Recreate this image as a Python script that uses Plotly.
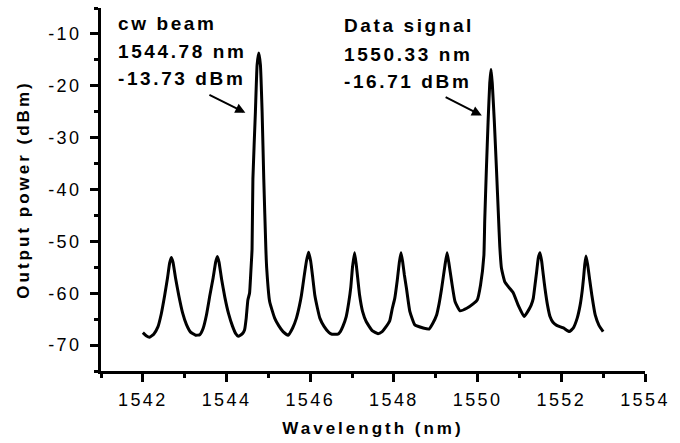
import plotly.graph_objects as go

# Wavelength (nm) and output power (dBm)
wavelength = [
    1542.00, 1542.08, 1542.16, 1542.26, 1542.36, 1542.44, 1542.52, 1542.59, 1542.64, 1542.68,
    1542.72, 1542.78, 1542.86, 1542.95, 1543.04, 1543.14, 1543.26, 1543.36, 1543.44, 1543.52,
    1543.60, 1543.68, 1543.74, 1543.78, 1543.82, 1543.88, 1543.96, 1544.05, 1544.14, 1544.22,
    1544.28, 1544.38, 1544.43, 1544.47, 1544.51, 1544.55, 1544.58, 1544.61, 1544.63, 1544.69,
    1544.73, 1544.77, 1544.81, 1544.85, 1544.89, 1544.94, 1544.96, 1545.03, 1545.15, 1545.25,
    1545.35, 1545.47, 1545.58, 1545.67, 1545.74, 1545.79, 1545.85, 1545.91, 1545.96, 1546.01,
    1546.06, 1546.11, 1546.17, 1546.23, 1546.33, 1546.45, 1546.52, 1546.66, 1546.72, 1546.78,
    1546.86, 1546.92, 1546.97, 1547.01, 1547.06, 1547.10, 1547.14, 1547.18, 1547.25, 1547.34,
    1547.48, 1547.62, 1547.72, 1547.80, 1547.90, 1547.96, 1548.02, 1548.08, 1548.13, 1548.17,
    1548.21, 1548.25, 1548.30, 1548.38, 1548.50, 1548.70, 1548.84, 1548.93, 1549.02, 1549.08,
    1549.14, 1549.22, 1549.27, 1549.31, 1549.38, 1549.46, 1549.58, 1549.74, 1549.90, 1549.99,
    1550.07, 1550.15, 1550.17, 1550.21, 1550.25, 1550.29, 1550.32, 1550.35, 1550.40, 1550.45,
    1550.50, 1550.53, 1550.57, 1550.65, 1550.75, 1550.85, 1550.98, 1551.11, 1551.20, 1551.28,
    1551.33, 1551.37, 1551.41, 1551.45, 1551.49, 1551.53, 1551.57, 1551.61, 1551.67, 1551.73,
    1551.80, 1551.89, 1552.05, 1552.19, 1552.28, 1552.38, 1552.45, 1552.50, 1552.53, 1552.56,
    1552.59, 1552.63, 1552.68, 1552.73, 1552.81, 1552.90, 1553.00,
]
power_dbm = [
    -67.6, -68.2, -68.5, -67.9, -66.5, -64.0, -60.5, -57.0, -54.2, -53.1,
    -54.0, -57.0, -60.5, -63.8, -66.0, -67.5, -68.1, -68.0, -66.8, -64.2,
    -60.5, -57.0, -54.0, -52.9, -54.0, -57.2, -60.8, -64.0, -66.3, -67.8,
    -68.3, -67.8, -67.1, -64.8, -61.3, -60.0, -56.0, -51.5, -38.0, -25.0,
    -16.0, -13.7, -16.0, -25.0, -38.0, -51.5, -55.2, -61.6, -64.8, -66.3,
    -67.4, -68.1, -66.7, -64.8, -62.5, -60.4, -57.0, -53.8, -52.1, -53.8,
    -57.0, -60.4, -62.8, -64.8, -66.4, -67.6, -67.9, -67.9, -67.4, -66.4,
    -64.5, -61.8, -58.8, -55.0, -52.2, -54.5, -57.5, -60.4, -63.5, -65.5,
    -67.2, -67.8, -67.4, -66.6, -65.3, -63.0, -61.0, -57.5, -54.0, -52.2,
    -54.0, -56.5, -59.1, -63.5, -66.1, -66.7, -66.9, -65.8, -64.2, -62.0,
    -59.1, -54.6, -52.2, -54.0, -57.8, -61.6, -63.4, -62.9, -62.0, -61.3,
    -58.4, -52.7, -46.0, -36.0, -27.0, -19.5, -16.8, -19.5, -27.0, -36.0,
    -45.5, -51.0, -55.2, -57.8, -58.9, -59.9, -62.5, -64.5, -63.5, -62.3,
    -61.0, -58.5, -55.9, -53.2, -52.2, -53.8, -56.5, -59.1, -62.3, -64.5,
    -65.6, -66.2, -66.7, -67.4, -66.8, -64.8, -62.3, -59.5, -57.2, -54.5,
    -52.8, -54.5, -57.5, -60.4, -64.2, -66.2, -67.4,
]

x_tick_vals = [1542, 1544, 1546, 1548, 1550, 1552, 1554]
y_tick_vals = [-10, -20, -30, -40, -50, -60, -70]

cw_label = ["cw beam", "1544.78 nm", "-13.73 dBm"]
cw_label_y = [-7.9, -13.35, -18.6]
data_label = ["Data signal", "1550.33 nm", "-16.71 dBm"]
data_label_y = [-8.45, -13.9, -19.25]

FONT = "Liberation Sans, Arial, sans-serif"

fig = go.Figure()
fig.add_trace(go.Scatter(
    x=wavelength, y=power_dbm, mode="lines",
    line=dict(color="black", width=3, shape="spline", smoothing=0.4),
    showlegend=False, hoverinfo="skip",
))

annotations = []
for txt, yy in zip(cw_label, cw_label_y):
    annotations.append(dict(x=1541.37, y=yy, xref="x", yref="y", text=txt, showarrow=False,
                            xanchor="left", yanchor="middle", align="left",
                            font=dict(family=FONT, size=19, color="black", weight="bold")))
for txt, yy in zip(data_label, data_label_y):
    annotations.append(dict(x=1546.75, y=yy, xref="x", yref="y", text=txt, showarrow=False,
                            xanchor="left", yanchor="middle", align="left",
                            font=dict(family=FONT, size=19, color="black", weight="bold")))
# arrows
annotations.append(dict(x=1544.45, y=-25.2, ax=1543.555, ay=-21.6, xref="x", yref="y",
                        axref="x", ayref="y", text="", showarrow=True, arrowhead=2,
                        arrowsize=1, arrowwidth=2, arrowcolor="black"))
annotations.append(dict(x=1550.10, y=-25.75, ax=1549.20, ay=-22.05, xref="x", yref="y",
                        axref="x", ayref="y", text="", showarrow=True, arrowhead=2,
                        arrowsize=1, arrowwidth=2, arrowcolor="black"))

fig.update_layout(
    width=680, height=443,
    margin=dict(l=101, r=35, t=8, b=70),
    paper_bgcolor="white", plot_bgcolor="white",
    font=dict(family=FONT, color="black"),
    annotations=annotations,
    showlegend=False,
)
fig.update_xaxes(
    range=[1541, 1554], tickvals=x_tick_vals, ticktext=[str(v) for v in x_tick_vals],
    showline=True, linecolor="black", linewidth=3, mirror=False,
    ticks="outside", ticklen=8, tickwidth=2.5, tickcolor="black",
    minor=dict(dtick=1, tick0=1541, ticks="outside", ticklen=4, tickwidth=2.5, tickcolor="black"),
    showgrid=False, zeroline=False, ticklabelstandoff=2,
    tickfont=dict(family=FONT, size=18, color="black"),
    title=dict(text="Wavelength (nm)", standoff=14,
               font=dict(family=FONT, size=17, color="black", weight="bold")),
)
fig.update_yaxes(
    range=[-75, -5], tickvals=y_tick_vals, ticktext=[str(v) for v in y_tick_vals],
    showline=True, linecolor="black", linewidth=3, mirror=False,
    ticks="outside", ticklen=8, tickwidth=2.5, tickcolor="black",
    minor=dict(dtick=5, tick0=-75, ticks="outside", ticklen=4, tickwidth=2.5, tickcolor="black"),
    showgrid=False, zeroline=False, ticklabelstandoff=5,
    tickfont=dict(family=FONT, size=18, color="black"),
    title=dict(text="Output power (dBm)", standoff=22,
               font=dict(family=FONT, size=17, color="black", weight="bold")),
)

post = """
document.body.style.margin = '0';
document.body.style.padding = '0';
var s = document.createElement('style');
s.innerHTML = 'html, body {margin:0; padding:0; overflow:hidden;} '
            + '.xtick text, .ytick text {letter-spacing: 2.4px;} '
            + '.annotation-text {letter-spacing: 2.6px;} '
            + '.xtitle, .ytitle {letter-spacing: 3px;}';
document.head.appendChild(s);
"""
fig.write_html("out.html", post_script=post, config={"displayModeBar": False})
